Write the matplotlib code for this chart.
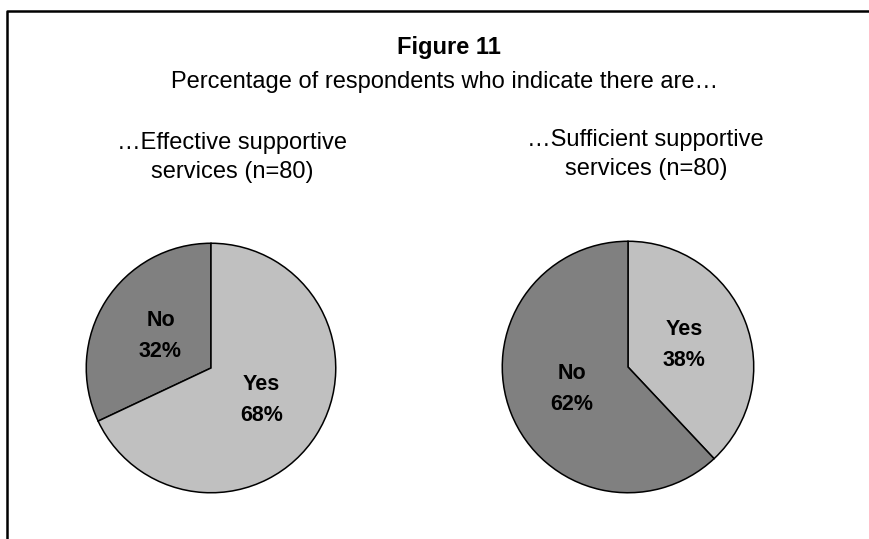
import numpy as np
import matplotlib
matplotlib.use('Agg')
import matplotlib.pyplot as plt
from matplotlib.lines import Line2D

plt.rcParams['font.family'] = ['Liberation Sans', 'DejaVu Sans']

# dados
left_labels = ['No', 'Yes']
left_values = [32, 68]
right_labels = ['Yes', 'No']
right_values = [38, 62]
colores = {'Yes': '#C0C0C0', 'No': '#808080'}
left_title = ['\u2026Effective supportive', 'services (n=80)']
right_title = ['\u2026Sufficient supportive', 'services (n=80)']

W, H = 870, 539
fig = plt.figure(figsize=(W / 100, H / 100), dpi=100)

def px_axes(cx, cy, r):
    return fig.add_axes([(cx - r) / W, (H - cy - r) / H, 2 * r / W, 2 * r / H])

def draw_pie(ax, labels, values, counterclock):
    wedges, _ = ax.pie(values, colors=[colores[l] for l in labels], startangle=90,
                       counterclock=counterclock, radius=1,
                       wedgeprops=dict(edgecolor='black', linewidth=1.1))
    for w, lab, v in zip(wedges, labels, values):
        ang = np.deg2rad((w.theta1 + w.theta2) / 2)
        ax.text(0.48 * np.cos(ang), 0.48 * np.sin(ang), f'{lab}\n{v}%',
                ha='center', va='center', fontsize=15.5, fontweight='bold',
                linespacing=1.6)
    ax.set_xlim(-1.01, 1.01)
    ax.set_ylim(-1.01, 1.01)
    ax.axis('off')

ax1 = px_axes(211, 368, 126)
draw_pie(ax1, left_labels, left_values, True)
ax2 = px_axes(628, 367, 127)
draw_pie(ax2, right_labels, right_values, False)

def txt(x, y, s, **kw):
    fig.text(x / W, 1 - y / H, s, ha='center', va='baseline', fontsize=17, **kw)

# titulos
txt(449, 54, 'Figure 11', fontweight='bold')
txt(445, 88, 'Percentage of respondents who indicate there are\u2026')
txt(232, 149, left_title[0])
txt(232, 178, left_title[1])
txt(645, 146, right_title[0])
txt(646, 175, right_title[1])

# marco
x0 = 7 / W
y0 = 1 - 11 / H
fig.add_artist(Line2D([x0, x0, 1], [0, y0, y0], transform=fig.transFigure,
                      color='black', linewidth=1.8))

fig.savefig('out.png', dpi=100)
